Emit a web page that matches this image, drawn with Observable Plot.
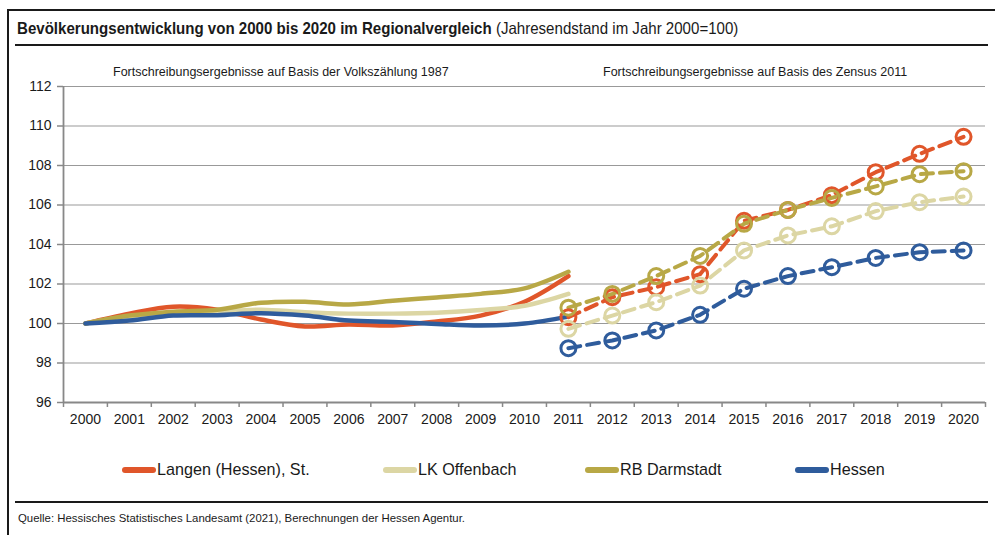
<!DOCTYPE html>
<html>
<head>
<meta charset="utf-8">
<script src="https://cdn.jsdelivr.net/npm/d3@7"></script>
<script src="https://cdn.jsdelivr.net/npm/@observablehq/plot@0.6"></script>
<style>
  html, body { margin: 0; padding: 0; background: #fff; }
  #wrap { position: relative; width: 995px; height: 535px; overflow: hidden; font-family: "Liberation Sans", Arial, sans-serif; color: #1a1a1a; }
  .abs { position: absolute; white-space: nowrap; }
  .line { position: absolute; background: #1a1a1a; }
  #chart { position: absolute; left: 0; top: 0; }
  .leg { position: absolute; top: 459px; font-size: 17px; display: flex; align-items: center; height: 22px; white-space: nowrap; }
  .leg span { display: inline-block; transform: scaleX(0.95); transform-origin: left center; }
  .sw { width: 34px; height: 6px; border-radius: 3px; margin-right: 1px; }
</style>
</head>
<body>
<div id="wrap">
  <div class="line" style="left:7px; top:9px; width:988px; height:1.5px;"></div>
  <div class="line" style="left:7px; top:9px; width:1.5px; height:526px;"></div>
  <div class="line" style="left:15px; top:44px; width:973px; height:1.5px;"></div>
  <div class="line" style="left:15px; top:501px; width:973px; height:1.5px;"></div>
  <div class="abs" style="left:17px; top:19px; font-size:16.5px; transform:scaleX(0.913); transform-origin:left top;"><b>Bevölkerungsentwicklung von 2000 bis 2020 im Regionalvergleich</b> (Jahresendstand im Jahr 2000=100)</div>
  <div id="chart"></div>
  <div class="abs" style="left:113px; top:65px; font-size:12.5px;">Fortschreibungsergebnisse auf Basis der Volkszählung 1987</div>
  <div class="abs" style="left:603px; top:65px; font-size:12.5px;">Fortschreibungsergebnisse auf Basis des Zensus 2011</div>
  <div id="legend"></div>
  <div class="abs" style="left:18px; top:512px; font-size:11.4px;">Quelle: Hessisches Statistisches Landesamt (2021), Berechnungen der Hessen Agentur.</div>
</div>
<script>
const seriesNames = ["Langen (Hessen), St.", "LK Offenbach", "RB Darmstadt", "Hessen"];
const seriesColors = ["#e0562a", "#dcd6a4", "#b8a846", "#2f5c9c"];

const yearsOld = [2000, 2001, 2002, 2003, 2004, 2005, 2006, 2007, 2008, 2009, 2010, 2011];
const yearsNew = [2011, 2012, 2013, 2014, 2015, 2016, 2017, 2018, 2019, 2020];
const yearTicks = [2000, 2001, 2002, 2003, 2004, 2005, 2006, 2007, 2008, 2009, 2010, 2011, 2012, 2013, 2014, 2015, 2016, 2017, 2018, 2019, 2020];
const yTicks = [96, 98, 100, 102, 104, 106, 108, 110, 112];

// Volkszählung 1987 basis (2000-2011)
const langenOld    = [100, 100.5, 100.85, 100.7, 100.2, 99.85, 99.95, 99.9, 100.1, 100.4, 101.1, 102.4];
const offenbachOld = [100, 100.35, 100.5, 100.6, 100.7, 100.57, 100.5, 100.5, 100.55, 100.68, 100.9, 101.5];
const darmstadtOld = [100, 100.4, 100.6, 100.7, 101.05, 101.1, 100.96, 101.15, 101.32, 101.5, 101.78, 102.62];
const hessenOld    = [100, 100.15, 100.4, 100.42, 100.52, 100.4, 100.15, 100.08, 99.98, 99.9, 100.0, 100.35];

// Zensus 2011 basis (2011-2020)
const langenNew    = [100.32, 101.33, 101.84, 102.5, 105.2, 105.75, 106.5, 107.66, 108.59, 109.45];
const offenbachNew = [99.73, 100.4, 101.08, 101.92, 103.7, 104.46, 104.92, 105.69, 106.14, 106.43];
const darmstadtNew = [100.8, 101.5, 102.4, 103.42, 105.05, 105.75, 106.36, 106.94, 107.56, 107.71];
const hessenNew    = [98.75, 99.14, 99.65, 100.44, 101.76, 102.4, 102.85, 103.32, 103.61, 103.7];

const oldSeries = [langenOld, offenbachOld, darmstadtOld, hessenOld];
const newSeries = [langenNew, offenbachNew, darmstadtNew, hessenNew];

const oldData = seriesNames.flatMap((s, i) => yearsOld.map((yr, j) => ({series: s, year: yr, value: oldSeries[i][j]})));
const newData = seriesNames.flatMap((s, i) => yearsNew.map((yr, j) => ({series: s, year: yr, value: newSeries[i][j]})));

const bounds = [...yearTicks.map(y => y - 0.5), 2020.5];

const chart = Plot.plot({
  width: 995,
  height: 430,
  marginLeft: 63,
  marginRight: 10,
  marginTop: 86,
  marginBottom: 28,
  x: {domain: [1999.5, 2020.5]},
  y: {domain: [96, 112]},
  color: {domain: seriesNames, range: seriesColors},
  style: {fontFamily: "'Liberation Sans', Arial, sans-serif", fontSize: "14px", color: "#1a1a1a", background: "transparent", overflow: "visible"},
  marks: [
    Plot.ruleY(yTicks.filter(d => d > 96), {stroke: "#999", strokeWidth: 1.2, strokeOpacity: 1}),
    Plot.ruleY([96], {stroke: "#888", strokeWidth: 1.8}),
    Plot.ruleX([1999.5], {stroke: "#888", strokeWidth: 1.8}),
    Plot.axisY({ticks: yTicks, tickSize: 6, tickPadding: 6, label: null, stroke: "#888", strokeWidth: 1.5, fontSize: 14}),
    Plot.axisX({ticks: bounds, tickSize: 5, tickFormat: () => "", label: null, stroke: "#888", strokeWidth: 1.5}),
    Plot.axisX({ticks: yearTicks, tickSize: 0, tickPadding: 12, tickFormat: d => String(d), label: null, fontSize: 14}),
    Plot.line(oldData, {x: "year", y: "value", z: "series", stroke: "series", curve: "catmull-rom", strokeWidth: 4.5, strokeLinecap: "round"}),
    Plot.line(newData, {x: "year", y: "value", z: "series", stroke: "series", strokeWidth: 4, strokeDasharray: "12,7"}),
    Plot.dot(newData, {x: "year", y: "value", stroke: "series", r: 7.5, strokeWidth: 3, fill: "none"})
  ]
});
document.getElementById("chart").appendChild(chart);

const legendX = [122, 383, 585, 795];
const legend = document.getElementById("legend");
seriesNames.forEach((s, i) => {
  const item = document.createElement("div");
  item.className = "leg";
  item.style.left = legendX[i] + "px";
  item.innerHTML = `<div class="sw" style="background:${seriesColors[i]}"></div><span>${s}</span>`;
  legend.appendChild(item);
});
</script>
</body>
</html>
